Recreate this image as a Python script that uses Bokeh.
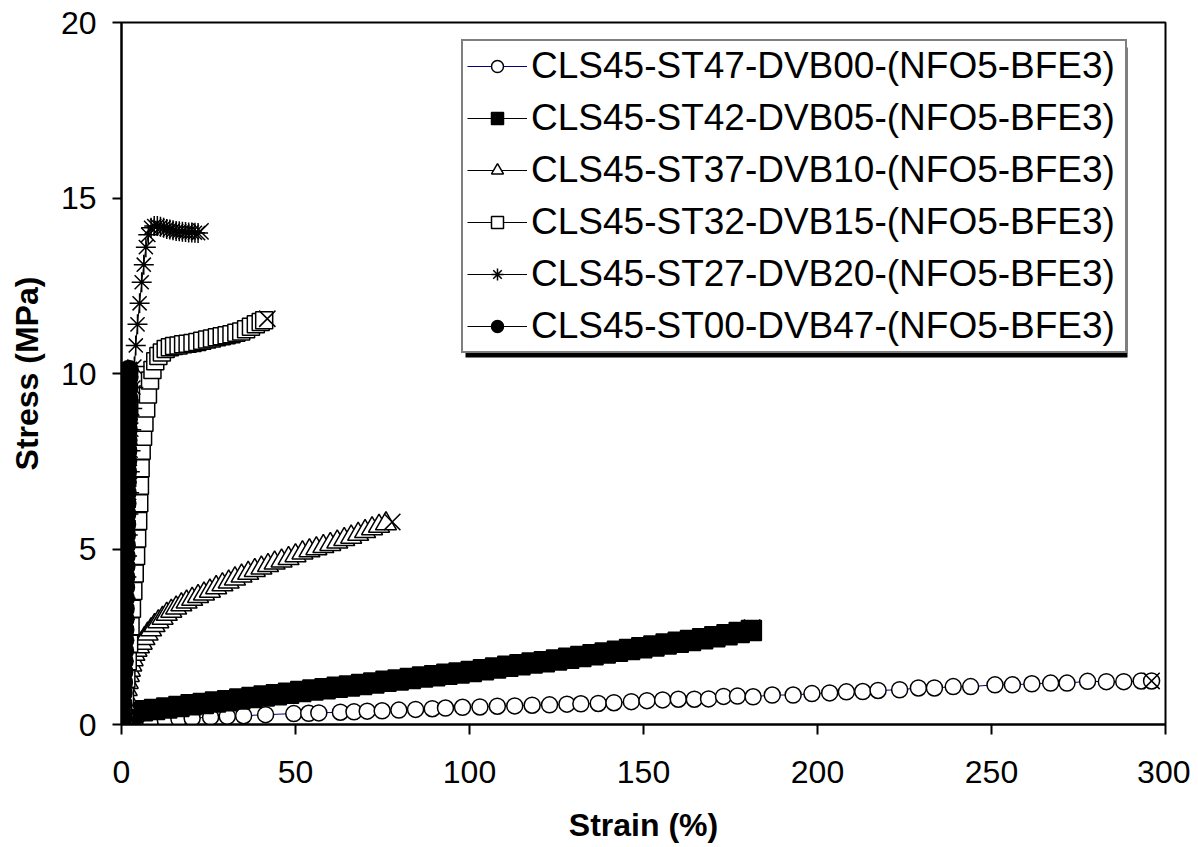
from bokeh.plotting import figure
from bokeh.models import Range1d, FixedTicker, Legend, LegendItem, BoxAnnotation
from bokeh.embed import file_html
from bokeh.resources import INLINE

# ---------------- data ----------------
labels = [
    "CLS45-ST47-DVB00-(NFO5-BFE3)",
    "CLS45-ST42-DVB05-(NFO5-BFE3)",
    "CLS45-ST37-DVB10-(NFO5-BFE3)",
    "CLS45-ST32-DVB15-(NFO5-BFE3)",
    "CLS45-ST27-DVB20-(NFO5-BFE3)",
    "CLS45-ST00-DVB47-(NFO5-BFE3)",
]

s1_x = [0, 0.7, 4.5, 8.3, 12.6, 16.5, 20.3, 25.6, 30.4, 35.1, 41.4, 49.5, 53.8, 56.7, 62.9,
        66.8, 70.6, 74.9, 79.7, 84.5, 89.3, 93.1, 98, 103, 108, 113, 118, 123, 128, 132,
        137, 141.5, 146.5, 151, 155.5, 160, 164.6, 168.7, 173, 177, 181.5, 187, 193, 198.4,
        203.5, 208.3, 213, 217.4, 223.6, 229, 233.6, 239, 244, 251, 256, 261.6, 267, 271.7,
        277.6, 283, 288, 293, 296]
s1_y = [0.0, 0.03, 0.07, 0.10, 0.13, 0.16, 0.18, 0.21, 0.23, 0.25, 0.28, 0.31, 0.32, 0.33, 0.35,
        0.36, 0.38, 0.39, 0.41, 0.43, 0.45, 0.47, 0.49, 0.50, 0.52, 0.53, 0.55, 0.56, 0.58, 0.59,
        0.60, 0.62, 0.65, 0.68, 0.70, 0.72, 0.72, 0.73, 0.80, 0.81, 0.79, 0.84, 0.84, 0.88,
        0.90, 0.93, 0.94, 0.97, 0.99, 1.04, 1.04, 1.08, 1.08, 1.13, 1.13, 1.16, 1.18, 1.18,
        1.23, 1.22, 1.22, 1.24, 1.24]

s2_x = [0, 0.5, 1, 1.5, 2, 2.5, 3, 3.5, 6, 9.5, 13, 16.5, 20, 23.5, 27, 30.5, 34, 37.5, 41,
        44.5, 48, 51.5, 55, 58.5, 62, 65.5, 69, 72.5, 76, 79.5, 83, 86.5, 90, 93.5, 97, 100.5,
        104, 107.5, 111, 114.5, 118, 121.5, 125, 128.5, 132, 135.5, 139, 142.5, 146, 149.5,
        153, 156.5, 160, 163.5, 167, 170.5, 174, 177.5, 181]
s2_y = [0, 0.06, 0.12, 0.18, 0.24, 0.29, 0.33, 0.36, 0.39, 0.43, 0.47, 0.51, 0.56, 0.60, 0.64,
        0.68, 0.73, 0.77, 0.81, 0.85, 0.89, 0.94, 0.98, 1.02, 1.06, 1.10, 1.14, 1.18, 1.23,
        1.27, 1.31, 1.35, 1.39, 1.43, 1.47, 1.51, 1.56, 1.61, 1.66, 1.70, 1.75, 1.79, 1.84,
        1.89, 1.94, 1.99, 2.04, 2.09, 2.14, 2.19, 2.24, 2.29, 2.34, 2.39, 2.44, 2.50, 2.56,
        2.62, 2.68]

s3_x = [0, 0.3, 0.6, 0.9, 1.2, 1.5, 1.8, 2.1, 2.4, 2.8, 3.2, 3.7, 4.3, 5, 5.8, 6.6, 7.5, 8.5,
        9.5, 10.6, 11.8, 13, 14.3, 15.7, 17.2, 18.7, 20.3, 22, 23.7, 25.4, 27.2, 29, 30.8,
        32.6, 34.5, 36.4, 38.3, 40.2, 42.1, 44, 46, 48, 50, 52, 54, 56, 58, 60, 62, 64, 66,
        68, 70, 72, 74, 76]
s3_y = [0, 0.2, 0.4, 0.6, 0.8, 1.0, 1.2, 1.4, 1.55, 1.7, 1.85, 2.0, 2.12, 2.22, 2.32, 2.45,
        2.58, 2.7, 2.82, 2.93, 3.03, 3.14, 3.23, 3.32, 3.41, 3.49, 3.57, 3.65, 3.72, 3.8, 3.9,
        3.98, 4.06, 4.15, 4.23, 4.31, 4.39, 4.46, 4.53, 4.6, 4.66, 4.73, 4.81, 4.89, 4.95,
        5.01, 5.07, 5.13, 5.2, 5.27, 5.34, 5.42, 5.5, 5.58, 5.65, 5.72]

s4_x = [0, 0.5, 1, 1.4, 1.8, 2.2, 2.6, 3, 3.4, 3.8, 4.2, 4.5, 4.8, 5.1, 5.3, 5.5, 5.8, 6.2,
        6.6, 7.1, 7.6, 8.2, 8.9, 9.7, 10.6, 11.6, 12.7, 13.9, 15.1, 16.4, 17.7, 19, 20.4,
        21.8, 23.2, 24.6, 26, 27.4, 28.8, 30.2, 31.6, 33, 34.4, 35.8, 37.2, 38.6, 40, 41]
s4_y = [0, 0.4, 0.8, 1.3, 1.8, 2.3, 2.8, 3.3, 3.8, 4.3, 4.8, 5.3, 5.8, 6.3, 6.8, 7.3, 7.8,
        8.2, 8.6, 9.0, 9.4, 9.8, 10.1, 10.35, 10.5, 10.6, 10.7, 10.75, 10.78, 10.8, 10.83,
        10.85, 10.87, 10.9, 10.93, 10.97, 11.0, 11.03, 11.06, 11.09, 11.12, 11.16, 11.2,
        11.26, 11.33, 11.4, 11.47, 11.52]

s5_x = [0, 0.2, 0.4, 0.6, 0.8, 1.0, 1.2, 1.4, 1.6, 1.8, 2.0, 2.2, 2.4, 2.6, 2.8, 3.1, 3.4,
        3.7, 4.1, 4.6, 5.2, 5.8, 6.4, 7.0, 7.7, 8.5, 9.4, 10.3, 11.2, 12.1, 13, 13.9, 14.8,
        15.7, 16.6, 17.5, 18.4, 19.3, 20.2, 21.1, 22]
s5_y = [0, 0.6, 1.2, 1.8, 2.4, 3.0, 3.6, 4.2, 4.8, 5.4, 6.0, 6.6, 7.2, 7.8, 8.4, 9.0, 9.6,
        10.2, 10.8, 11.4, 12.0, 12.6, 13.1, 13.6, 13.95, 14.15, 14.2, 14.2, 14.18, 14.15,
        14.12, 14.1, 14.08, 14.06, 14.05, 14.04, 14.03, 14.02, 14.02, 14.01, 14.0]

s6_x = [0, 0.1, 0.2, 0.3, 0.4, 0.5, 0.6, 0.7, 0.75, 0.8, 0.85, 0.9, 0.95, 1.0, 1.05, 1.1,
        1.15, 1.2, 1.25, 1.3, 1.35, 1.4, 1.45, 1.5, 1.55, 1.6, 1.65, 1.7, 1.75, 1.8, 1.85,
        1.9, 1.95, 2.0, 2.1]
s6_y = [0, 0.3, 0.6, 0.9, 1.2, 1.5, 1.8, 2.1, 2.4, 2.7, 3.0, 3.3, 3.6, 3.9, 4.2, 4.5, 4.8,
        5.1, 5.4, 5.7, 6.0, 6.3, 6.6, 6.9, 7.2, 7.5, 7.8, 8.1, 8.4, 8.7, 9.0, 9.3, 9.6, 9.9,
        10.1]

# break points (end of each test), drawn with an "x"
break_x = [296, 181.2, 77.8, 41.9, 22.7, 2.2]
break_y = [1.24, 2.76, 5.77, 11.56, 14.05, 10.1]

x_ticks = [0, 50, 100, 150, 200, 250, 300]
y_ticks = [0, 5, 10, 15, 20]

# ---------------- figure ----------------
FONT = "Liberation Sans"
W, H = 1190, 846
ML, MR, MT, MB = 121, 25, 22, 122
FW, FH = W - ML - MR, H - MT - MB

p = figure(width=W, height=H, output_backend="svg", toolbar_location=None,
           x_range=Range1d(0, 300), y_range=Range1d(0, 20),
           min_border_left=ML, min_border_right=MR, min_border_top=MT, min_border_bottom=MB)
p.grid.visible = False
p.outline_line_color = "black"
p.outline_line_width = 2
p.background_fill_color = "white"
p.border_fill_color = "white"

for ax in (p.xaxis[0], p.yaxis[0]):
    ax.axis_line_width = 2
    ax.axis_line_color = "black"
    ax.major_tick_line_width = 2
    ax.major_tick_line_color = "black"
    ax.major_tick_in = 0
    ax.minor_tick_line_color = None
    ax.major_label_text_font = FONT
    ax.major_label_text_font_size = "32px"
    ax.major_label_text_color = "black"
    ax.axis_label_text_font = FONT
    ax.axis_label_text_font_size = "32px"
    ax.axis_label_text_font_style = "bold"
    ax.axis_label_text_color = "black"

p.xaxis.ticker = FixedTicker(ticks=x_ticks)
p.yaxis.ticker = FixedTicker(ticks=y_ticks)
p.xaxis.axis_label = "Strain (%)"
p.yaxis.axis_label = "Stress (MPa)"
p.xaxis.major_tick_out = 10
p.yaxis.major_tick_out = 9
p.xaxis.major_label_standoff = 26
p.yaxis.major_label_standoff = 16
p.xaxis.axis_label_standoff = 21
p.yaxis.axis_label_standoff = 13

series = [
    (s1_x, s1_y, "circle", "white", "#000080", 16),
    (s2_x, s2_y, "square", "black", "black", 20),
    (s3_x, s3_y, "triangle", "white", "black", 21),
    (s4_x, s4_y, "square", "white", "black", 17),
    (s5_x, s5_y, "asterisk", "black", "black", 20),
    (s6_x, s6_y, "circle", "black", "black", 19),
]

items = []
for i, (xs, ys, mk, fill, lcol, sz) in enumerate(series):
    lr = p.line(xs, ys, line_color=lcol, line_width=1)
    sr = p.scatter(xs, ys, marker=mk, size=sz, fill_color=fill, line_color="black",
                   line_width=1.5)
    p.scatter([break_x[i]], [break_y[i]], marker="x", size=23, line_color="black",
              line_width=1.5)
    items.append(LegendItem(label=labels[i], renderers=[lr, sr]))

# legend geometry (screen px relative to the frame's bottom-left)
PAD, GW, LS, LW, LH, SP = 4, 60, 4, 590, 42, 10
LEG_X, LEG_Y, SH = 340, 371, 4
LEG_W = 2 * PAD + GW + LS + LW
LEG_H = 2 * PAD + 6 * LH + 5 * SP
sx = 300.0 / FW
sy = 20.0 / FH
shadow = BoxAnnotation(left=(LEG_X + SH) * sx, right=(LEG_X + LEG_W + SH) * sx,
                       bottom=(LEG_Y - SH) * sy, top=(LEG_Y + LEG_H - SH) * sy,
                       fill_color="black", fill_alpha=1, line_color=None)
p.add_layout(shadow)

legend = Legend(items=items, location=(LEG_X, LEG_Y), margin=0,
                padding=PAD, spacing=SP, glyph_width=GW, glyph_height=30,
                label_standoff=LS, label_width=LW, label_height=LH,
                label_text_font=FONT, label_text_font_size="37px", label_text_color="black",
                border_line_color="black", border_line_width=2,
                background_fill_color="white", background_fill_alpha=1)
p.add_layout(legend)

open("out.html", "w").write(file_html(p, INLINE))
